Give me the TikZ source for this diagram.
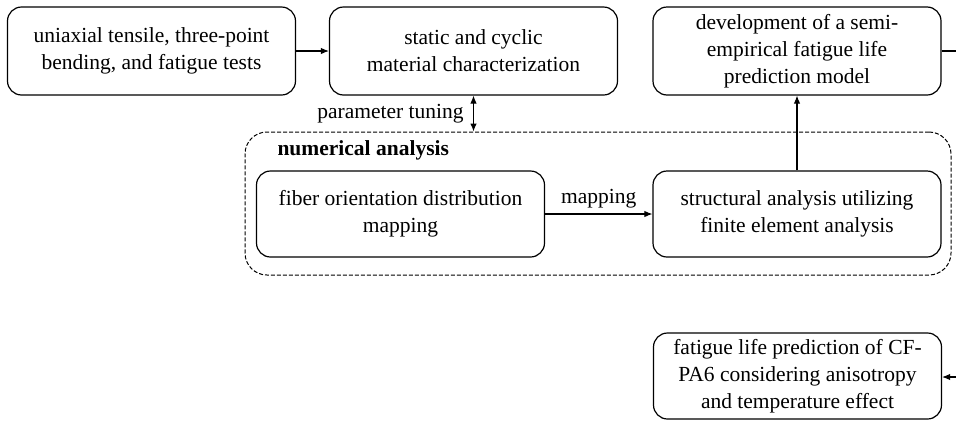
\documentclass[tikz,border=0pt]{standalone}
\usepackage{fontspec}
\setmainfont{Liberation Serif}
\usetikzlibrary{arrows.meta}
\begin{document}
\begin{tikzpicture}[x=1pt,y=-1pt,
  every node/.style={font=\fontsize{21.5}{27}\selectfont},
  box/.style={draw, line width=1.2pt, rounded corners=14pt, align=center, inner sep=0pt, minimum width=288pt},
  tip/.style={Latex[length=8pt,width=6.5pt]},
  conn/.style={line width=1.1pt, -{Latex[length=8pt,width=6.5pt]}},
  grp/.style={draw, dash pattern=on 4pt off 2pt, line width=1pt, rounded corners=22pt, inner sep=0pt}]
\useasboundingbox (0,0) rectangle (956,421);
\node[box, minimum height=88pt] (A) at (151.5,51) {uniaxial tensile, three-point\\bending, and fatigue tests};
\node[box, minimum height=88pt] (B) at (473.5,51) {static and cyclic\\material characterization};
\node[box, minimum height=88pt] (C) at (797,51) {development of a semi-\\empirical fatigue life\\prediction model};
\node[grp, minimum width=706pt, minimum height=143pt] (N) at (598,203.5) {};
\node[anchor=base west, font=\fontsize{21.5}{27}\selectfont\bfseries] (NL) at (274,155) {numerical analysis};
\node[box, minimum height=86pt] (D) at (400.5,214) {fiber orientation distribution\\mapping};
\node[box, minimum height=86pt] (E) at (797,214) {structural analysis utilizing\\finite element analysis};
\node[box, minimum height=86pt] (F) at (797.5,376) {fatigue life prediction of CF-\\PA6 considering anisotropy\\and temperature effect};
\coordinate (CR) at (956,51);
\coordinate (FR) at (956,377);
\draw[conn] (A) -- (B);
\draw[line width=1.1pt, {Latex[length=8pt,width=6.5pt]}-{Latex[length=8pt,width=6.5pt]}] (B.south) -- (B.south |- N.north) node[midway, left=6pt, anchor=east] (PT) {parameter tuning};
\draw[conn] (D) -- node[above=2pt] (MP) {mapping} (E);
\draw[conn] (E) -- (C);
\draw[line width=1.1pt] (C.east) -- (CR);
\draw[conn] (FR) -- (F.east |- FR);
\end{tikzpicture}
\end{document}
